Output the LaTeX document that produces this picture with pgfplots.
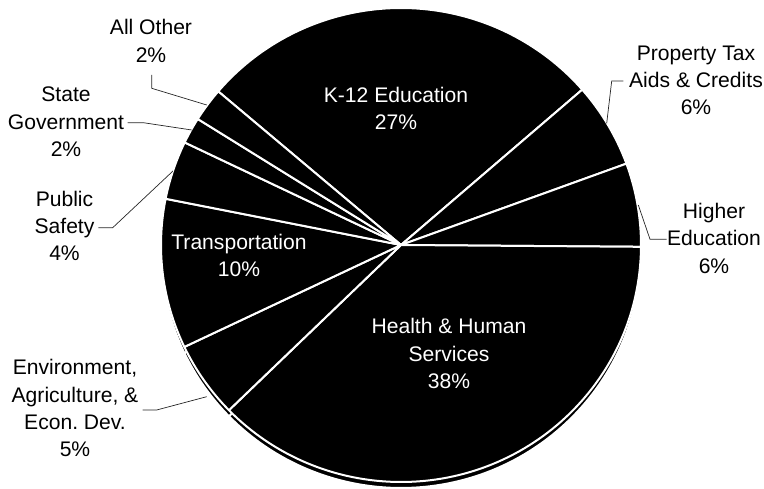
\documentclass[border=0pt]{standalone}
\usepackage{fontspec}
\setmainfont{Liberation Sans}
\usepackage{pgfplots}
\usepackage{pgfplotstable}
\pgfplotsset{compat=1.18}

\pgfplotstableread{
slice value
K12 27.4
PropTax 5.8
Higher 5.7
Health 37.6
Env 5.2
Transport 10.2
PublicSafety 4.0
StateGov 1.8
AllOther 2.3
}\piedata

\newcommand\lbl{\fontsize{21.1}{27.5}\selectfont}
\def\cx{401}
\def\cy{244}
\def\rx{240pt}
\def\ry{237pt}

\begin{document}
\begin{tikzpicture}
\begin{axis}[x=1pt,y=1pt,xmin=0,xmax=764,ymin=0,ymax=489,hide axis,clip=false]
\pgfplotsextra{
  % depth (side) of the pie
  \xdef\angA{139.6}
  \foreach \i in {0,...,8}{
    \pgfplotstablegetelem{\i}{value}\of\piedata
    \pgfmathsetmacro\angB{\angA-3.6*\pgfplotsretval}
    \fill[black,draw=white,line width=2pt,line join=round]
      (axis cs:\cx,\cy-6) -- +(\angA:\rx\space and \ry) arc[start angle=\angA,end angle=\angB,x radius=\rx,y radius=\ry] -- cycle;
    \xdef\angA{\angB}
  }
  % top face
  \xdef\angA{139.6}
  \foreach \i in {0,...,8}{
    \pgfplotstablegetelem{\i}{value}\of\piedata
    \pgfmathsetmacro\angB{\angA-3.6*\pgfplotsretval}
    \fill[black,draw=white,line width=2pt,line join=round]
      (axis cs:\cx,\cy) -- +(\angA:\rx\space and \ry) arc[start angle=\angA,end angle=\angB,x radius=\rx,y radius=\ry] -- cycle;
    \xdef\angA{\angB}
  }
}
% leader lines
\addplot[black!85,line width=0.7pt,mark=none] coordinates {(151.7,414) (151.7,400.7) (206.7,384)};
\addplot[black!85,line width=0.7pt,mark=none] coordinates {(127.7,366.3) (143.3,366.3) (191.7,359)};
\addplot[black!85,line width=0.7pt,mark=none] coordinates {(98.3,261.3) (112.7,261.3) (173,318)};
\addplot[black!85,line width=0.7pt,mark=none] coordinates {(142.7,79) (156.7,79) (206.7,92.3)};
\addplot[black!85,line width=0.7pt,mark=none] coordinates {(623.3,408) (611.7,408) (606.7,365.7)};
\addplot[black!85,line width=0.7pt,mark=none] coordinates {(666.7,249.7) (650,249.7) (638.3,284)};
% labels inside
\node[anchor=base,text=white,font=\lbl] at (axis cs:396,386.7) {K-12 Education};
\node[anchor=base,text=white,font=\lbl] at (axis cs:396,359.7) {27\%};
\node[anchor=base,text=white,font=\lbl] at (axis cs:449,155.7) {Health \& Human};
\node[anchor=base,text=white,font=\lbl] at (axis cs:449,127.7) {Services};
\node[anchor=base,text=white,font=\lbl] at (axis cs:449,100.7) {38\%};
\node[anchor=base,text=white,font=\lbl] at (axis cs:239,239) {Transportation};
\node[anchor=base,text=white,font=\lbl] at (axis cs:239,212) {10\%};
% labels outside
\node[anchor=base,font=\lbl] at (axis cs:151,454) {All Other};
\node[anchor=base,font=\lbl] at (axis cs:151,426) {2\%};
\node[anchor=base,font=\lbl] at (axis cs:66,387) {State};
\node[anchor=base,font=\lbl] at (axis cs:66,359.7) {Government};
\node[anchor=base,font=\lbl] at (axis cs:66,332) {2\%};
\node[anchor=base,font=\lbl] at (axis cs:64.5,282.3) {Public};
\node[anchor=base,font=\lbl] at (axis cs:64.5,255.3) {Safety};
\node[anchor=base,font=\lbl] at (axis cs:64.5,228.3) {4\%};
\node[anchor=base,font=\lbl] at (axis cs:75,114) {Environment,};
\node[anchor=base,font=\lbl] at (axis cs:75,86.3) {Agriculture, \&};
\node[anchor=base,font=\lbl] at (axis cs:75,59.7) {Econ.\ Dev.};
\node[anchor=base,font=\lbl] at (axis cs:75,32.3) {5\%};
\node[anchor=base,font=\lbl] at (axis cs:696,428) {Property Tax};
\node[anchor=base,font=\lbl] at (axis cs:696,401) {Aids \& Credits};
\node[anchor=base,font=\lbl] at (axis cs:696,374) {6\%};
\node[anchor=base,font=\lbl] at (axis cs:714,270.7) {Higher};
\node[anchor=base,font=\lbl] at (axis cs:714,243) {Education};
\node[anchor=base,font=\lbl] at (axis cs:714,215.7) {6\%};
\end{axis}
\pgfresetboundingbox
\path[use as bounding box] (current axis.south west) rectangle (current axis.north east);
\end{tikzpicture}
\end{document}
